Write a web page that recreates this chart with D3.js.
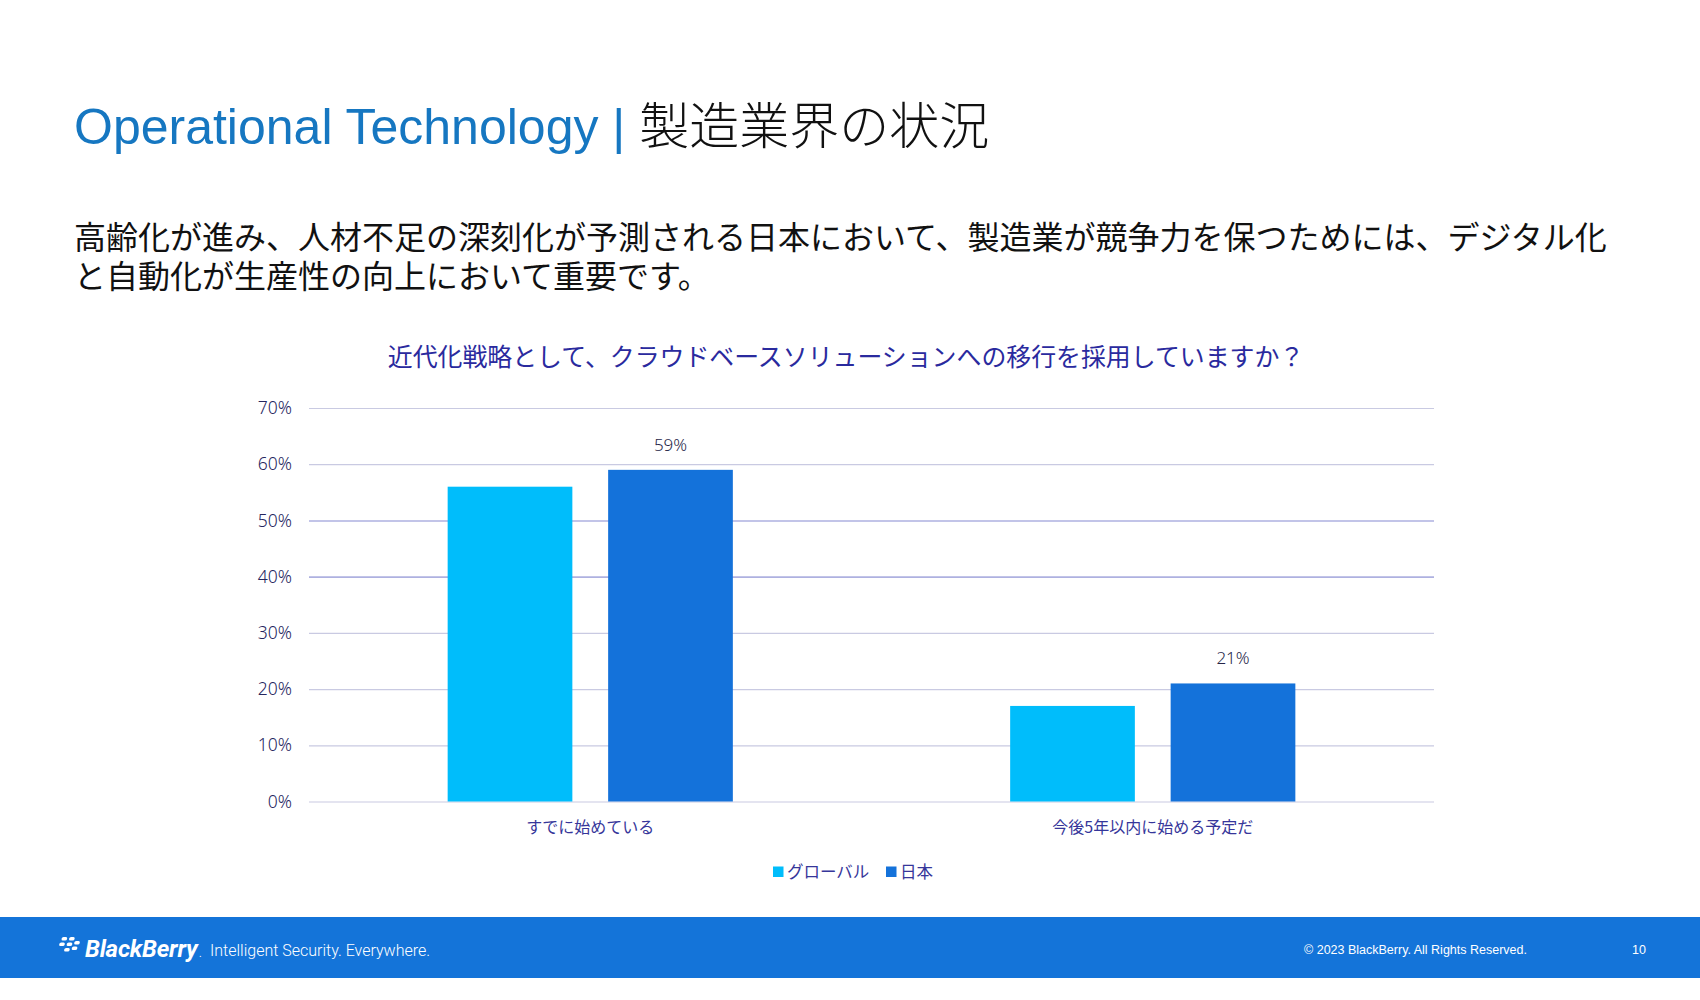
<!DOCTYPE html>
<html>
<head>
<meta charset="utf-8">
<script src="https://cdn.jsdelivr.net/npm/d3@7"></script>
<style>
  html, body { margin: 0; padding: 0; background: #ffffff; }
  svg { display: block; }
</style>
</head>
<body>
<svg id="chart" width="1700" height="1000"></svg>
<script>
// ---- Data ----
const categories = ["すでに始めている", "今後5年以内に始める予定だ"];
const seriesNames = ["グローバル", "日本"];
const globalValues = [0.56, 0.17];
const japanValues = [0.59, 0.21];
const tickValues = [0, 0.1, 0.2, 0.3, 0.4, 0.5, 0.6, 0.7];
const tickLabels = ["0%", "10%", "20%", "30%", "40%", "50%", "60%", "70%"];
const dataLabelSeries = [false, true]; // only Japan bars show labels

const titleBlue = "Operational Technology | ";
const titleJa = "製造業界の状況";
const bodyLines = [
  "高齢化が進み、人材不足の深刻化が予測される日本において、製造業が競争力を保つためには、デジタル化",
  "と自動化が生産性の向上において重要です。"
];
const chartTitle = "近代化戦略として、クラウドベースソリューションへの移行を採用していますか？";

// ---- Setup ----
const svg = d3.select("#chart");
const W = 1700, H = 1000;
const colors = ["#00bdfb", "#1472da"];
const jaFont = "'Noto Sans CJK JP', 'Noto Sans', sans-serif";
const numFont = "'Noto Sans', 'Noto Sans CJK JP', sans-serif";

// Slide title
const t = svg.append("text")
  .attr("x", 74).attr("y", 144)
  .attr("font-size", 50);
t.append("tspan").attr("font-family", "'Liberation Sans', Arial, sans-serif")
  .attr("fill", "#1677c1").text(titleBlue);
t.append("tspan").attr("font-family", jaFont).attr("font-weight", 300)
  .attr("fill", "#111111").text(titleJa);

// Body text (one paragraph, two lines)
const body = svg.append("text")
  .attr("x", 74).attr("y", 249)
  .attr("font-family", jaFont)
  .attr("font-size", 32)
  .attr("fill", "#111111");
body.selectAll("tspan").data(bodyLines).join("tspan")
  .attr("x", 74)
  .attr("dy", (d, i) => i === 0 ? 0 : 39)
  .text(d => d);

// Chart title
svg.append("text")
  .attr("x", 846).attr("y", 366)
  .attr("text-anchor", "middle")
  .attr("font-family", jaFont)
  .attr("font-size", 24.9)
  .attr("fill", "#2a2a9e")
  .text(chartTitle);

// ---- Scales ----
const plot = { left: 309, right: 1434, top: 408, bottom: 801.5 };
const y = d3.scaleLinear().domain([0, 0.7]).range([plot.bottom, plot.top]);
const x0 = d3.scaleBand().domain(categories).range([plot.left, plot.right]).paddingInner(0).paddingOuter(0);
const bw = x0.bandwidth();
const x1 = d3.scaleBand().domain(seriesNames)
  .range([bw * 0.2465, bw * 0.7535]).paddingInner(0.223).paddingOuter(0);

// Gridlines
const yAxisGrid = d3.axisLeft(y).tickValues(tickValues)
  .tickSize(-(plot.right - plot.left)).tickFormat("");
const gGrid = svg.append("g").attr("transform", `translate(${plot.left},0)`).call(yAxisGrid);
gGrid.select(".domain").remove();
gGrid.selectAll(".tick line")
  .attr("stroke", d => (d === 0.4 || d === 0.5) ? "#aeb1e0" : "#c9cae2")
  .attr("stroke-width", d => (d === 0.4 || d === 0.5) ? 1.6 : 1.2);

// Y tick labels
const yAxis = d3.axisLeft(y).tickValues(tickValues)
  .tickSize(0).tickPadding(17)
  .tickFormat((d, i) => tickLabels[i]);
const gY = svg.append("g").attr("transform", `translate(${plot.left},0)`).call(yAxis);
gY.select(".domain").remove();
gY.selectAll(".tick text")
  .attr("font-family", numFont)
  .attr("font-size", 17.5)
  .attr("font-weight", 300)
  .attr("fill", "#26265e");

// Bars
const rows = categories.map((c, i) => ({ cat: c, vals: [globalValues[i], japanValues[i]] }));
const groups = svg.append("g").selectAll("g").data(rows).join("g")
  .attr("transform", d => `translate(${x0(d.cat)},0)`);
groups.selectAll("rect").data(d => d.vals.map((v, j) => ({ s: seriesNames[j], v, j }))).join("rect")
  .attr("x", d => x1(d.s))
  .attr("width", x1.bandwidth())
  .attr("y", d => y(d.v))
  .attr("height", d => y(0) - y(d.v))
  .attr("fill", d => colors[d.j]);

// Data labels
groups.selectAll("text.val").data(d => d.vals.map((v, j) => ({ s: seriesNames[j], v, j })).filter(d => dataLabelSeries[d.j]))
  .join("text").attr("class", "val")
  .attr("x", d => x1(d.s) + x1.bandwidth() / 2)
  .attr("y", d => y(d.v) - 19)
  .attr("text-anchor", "middle")
  .attr("font-family", numFont)
  .attr("font-size", 17)
  .attr("font-weight", 300)
  .attr("fill", "#262648")
  .text(d => Math.round(d.v * 100) + "%");

// X axis labels
const xAxis = d3.axisBottom(x0).tickSize(0).tickPadding(0);
const gX = svg.append("g").attr("transform", `translate(0,${plot.bottom + 20})`).call(xAxis);
gX.select(".domain").remove();
gX.selectAll(".tick text")
  .attr("font-family", jaFont)
  .attr("font-size", 16)
  .attr("fill", "#36369a")
  .attr("dy", "0.71em");

// Legend
const legend = svg.append("g");
const legendItems = [{ name: seriesNames[0], x: 773 }, { name: seriesNames[1], x: 886 }];
legendItems.forEach((it, i) => {
  legend.append("rect").attr("x", it.x).attr("y", 866.5).attr("width", 10.5).attr("height", 10.5).attr("fill", colors[i]);
  legend.append("text").attr("x", it.x + 14).attr("y", 878)
    .attr("font-family", jaFont).attr("font-size", 16.5).attr("fill", "#36369a").text(it.name);
});

// Footer band
svg.append("rect").attr("x", 0).attr("y", 917).attr("width", W).attr("height", 61).attr("fill", "#1474d9");

// BlackBerry logo dots
const dots = [[0,0],[7.5,0],[-1.2,5.5],[6.3,5.5],[13.5,4],[4.9,11],[12.2,9.5]];
const logo = svg.append("g").attr("transform", "translate(62,937)");
dots.forEach(d => {
  logo.append("rect").attr("x", d[0]).attr("y", d[1]).attr("width", 5.5).attr("height", 3.6)
    .attr("rx", 1.6).attr("fill", "#ffffff").attr("transform", "skewX(-12)");
});
svg.append("text").attr("x", 85).attr("y", 957)
  .attr("font-family", "Roboto, 'Liberation Sans', sans-serif")
  .attr("font-size", 24).attr("font-weight", 700).attr("font-style", "italic")
  .attr("fill", "#ffffff").attr("letter-spacing", -0.2).text("BlackBerry");
svg.append("text").attr("x", 199).attr("y", 957)
  .attr("font-family", "Roboto, sans-serif").attr("font-size", 10).attr("fill", "#ffffff").text(".");
svg.append("text").attr("x", 210).attr("y", 955.5)
  .attr("font-family", "Roboto, 'Liberation Sans', sans-serif")
  .attr("font-size", 16).attr("font-weight", 300).attr("fill", "#ffffff")
  .text("Intelligent Security. Everywhere.");
svg.append("text").attr("x", 1304).attr("y", 954)
  .attr("font-family", "'Liberation Sans', Arial, sans-serif")
  .attr("font-size", 12.5).attr("fill", "#ffffff")
  .text("© 2023 BlackBerry. All Rights Reserved.");
svg.append("text").attr("x", 1632).attr("y", 954)
  .attr("font-family", "'Liberation Sans', Arial, sans-serif")
  .attr("font-size", 12.5).attr("fill", "#ffffff")
  .text("10");
</script>
</body>
</html>
